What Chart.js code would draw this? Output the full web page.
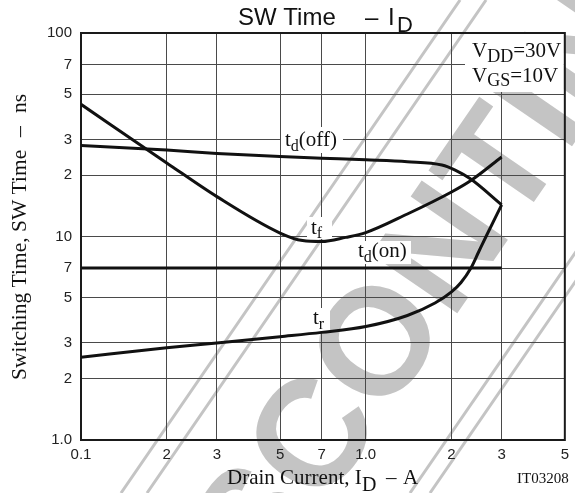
<!DOCTYPE html>
<html>
<head>
<meta charset="utf-8">
<script src="https://cdn.jsdelivr.net/npm/chart.js@4.4.1/dist/chart.umd.min.js"></script>
<style>
  html, body { margin: 0; padding: 0; background: #fff; }
  #wrap { width: 575px; height: 493px; position: relative; }
</style>
</head>
<body>
<div id="wrap"><canvas id="chartSwTime"></canvas></div>
<script>
// Drain current (A) vs switching time (ns), one pair of arrays per curve
const idTdOn = [0.1, 3];
const tdOn = [7, 7];

const idTdOff = [0.1, 0.2, 0.3, 0.5, 0.7, 1.0, 1.4, 1.85, 2.06, 2.33, 3.0];
const tdOff = [28.0, 26.6, 25.6, 24.7, 24.25, 23.8, 23.3, 22.45, 21.2, 19.2, 14.3];

const idTf = [0.1, 0.2, 0.3, 0.5, 0.6, 0.7, 0.85, 1.0, 1.4, 2.0, 2.34, 3.0];
const tf = [44.6, 23.0, 15.7, 10.4, 9.55, 9.45, 9.9, 10.45, 12.9, 16.55, 18.85, 24.6];

const idTr = [0.1, 0.2, 0.3, 0.5, 0.7, 1.0, 1.4, 1.75, 2.0, 2.16, 2.34, 2.49, 2.66, 3.0];
const tr = [2.55, 2.84, 3.0, 3.22, 3.38, 3.61, 4.09, 4.71, 5.34, 5.94, 7.0, 8.39, 10.17, 14.3];

// Axis ticks (log decades, labels repeat per decade)
const xTicks = [0.1, 0.2, 0.3, 0.5, 0.7, 1, 2, 3, 5];
const xTickLabels = ['0.1', '2', '3', '5', '7', '1.0', '2', '3', '5'];
const yTicks = [1, 2, 3, 5, 7, 10, 20, 30, 50, 70, 100];
const yTickLabels = ['1.0', '2', '3', '5', '7', '10', '2', '3', '5', '7', '100'];

const SERIF = '"Liberation Serif", "Times New Roman", serif';
const SANS = '"Liberation Sans", Arial, sans-serif';

function toPoints(xs, ys) {
  return xs.map((x, i) => ({ x: x, y: ys[i] }));
}

function curve(label, xs, ys) {
  return {
    label: label,
    data: toPoints(xs, ys),
    borderColor: '#111',
    borderWidth: 3,
    pointRadius: 0,
    fill: false,
    cubicInterpolationMode: 'monotone'
  };
}

// Draws text pieces one after another, [text, size, dy] each
function drawRich(ctx, x, y, parts, family) {
  let cx = x;
  parts.forEach(([txt, size, dy]) => {
    ctx.font = size + 'px ' + family;
    ctx.fillText(txt, cx, y + dy);
    cx += ctx.measureText(txt).width;
  });
}

// Grey "DISCONTINUED" stamp behind the grid
const stampPlugin = {
  id: 'stamp',
  beforeDraw(chart) {
    const ctx = chart.ctx;
    const slope = 1.454;
    ctx.save();
    ctx.strokeStyle = '#c4c4c4';
    ctx.lineWidth = 3;
    [121, 147, 410, 430].forEach((x0) => {
      ctx.beginPath();
      ctx.moveTo(x0, 493);
      ctx.lineTo(x0 + 493 / slope, 0);
      ctx.stroke();
    });
    ctx.translate(472, 218);
    ctx.rotate(-Math.atan(slope));
    ctx.fillStyle = '#c4c4c4';
    ctx.font = 'bold 152px ' + SANS;
    ctx.textAlign = 'center';
    ctx.textBaseline = 'middle';
    ctx.fillText('DISCONTINUED', 0, 0);
    ctx.restore();
  }
};

// White boxes under the curve labels, plus the heavy frame
const boxesPlugin = {
  id: 'boxes',
  beforeDatasetsDraw(chart) {
    const ctx = chart.ctx;
    const a = chart.chartArea;
    ctx.save();
    ctx.fillStyle = '#fff';
    ctx.fillRect(281, 127, 62, 26);   // td(off)
    ctx.fillRect(307, 217, 25, 22);   // tf
    ctx.fillRect(354, 241, 57, 23);   // td(on)
    ctx.fillRect(309, 308, 21, 23);   // tr
    ctx.fillRect(465, a.top + 1, a.right - 466, 58); // conditions
    ctx.strokeStyle = '#1a1a1a';
    ctx.lineWidth = 2;
    ctx.strokeRect(a.left, a.top, a.right - a.left, a.bottom - a.top);
    ctx.restore();
  }
};

// Curve names, test conditions, title and axis titles
const textPlugin = {
  id: 'texts',
  afterDraw(chart) {
    const ctx = chart.ctx;
    ctx.save();
    ctx.fillStyle = '#111';
    ctx.textBaseline = 'alphabetic';
    ctx.textAlign = 'left';

    drawRich(ctx, 285, 146, [['t', 21, 0], ['d', 16, 5], ['(off)', 21, 0]], SERIF);
    drawRich(ctx, 311, 234, [['t', 21, 0], ['f', 16, 4]], SERIF);
    drawRich(ctx, 358, 257, [['t', 21, 0], ['d', 16, 5], ['(on)', 21, 0]], SERIF);
    drawRich(ctx, 313, 324, [['t', 21, 0], ['r', 16, 5]], SERIF);

    drawRich(ctx, 472, 57, [['V', 21, 0], ['DD', 18, 5], ['=30V', 21, 0]], SERIF);
    drawRich(ctx, 472, 82, [['V', 21, 0], ['GS', 18, 4], ['=10V', 21, 0]], SERIF);

    // chart title
    ctx.font = '24px ' + SANS;
    ctx.fillText('SW Time', 238, 25);
    ctx.fillText('–', 365, 25);
    ctx.fillText('I', 388, 25);
    ctx.font = '22px ' + SANS;
    ctx.fillText('D', 397, 32);

    // x axis title
    drawRich(ctx, 227, 484, [['Drain Current, I', 21, 0]], SERIF);
    ctx.font = '20px ' + SERIF;
    ctx.fillText('D', 362, 491);
    ctx.font = '21px ' + SERIF;
    ctx.fillText('–', 386, 484);
    ctx.fillText('A', 403, 484);

    ctx.font = '15px ' + SERIF;
    ctx.fillText('IT03208', 517, 483);

    // y axis title, reads bottom to top
    ctx.translate(26, 380);
    ctx.rotate(-Math.PI / 2);
    ctx.font = '21.5px ' + SERIF;
    ctx.fillText('Switching Time, SW Time', 0, 0);
    ctx.fillText('–', 243, 0);
    ctx.fillText('ns', 267, 0);
    ctx.restore();
  }
};

const gridStyle = { color: '#4a4a4a', lineWidth: 1, drawTicks: false };
const tickFont = { family: 'Liberation Sans', size: 15 };

new Chart(document.getElementById('chartSwTime'), {
  type: 'line',
  data: {
    datasets: [
      curve('td(on)', idTdOn, tdOn),
      curve('td(off)', idTdOff, tdOff),
      curve('tf', idTf, tf),
      curve('tr', idTr, tr)
    ]
  },
  options: {
    responsive: true,
    maintainAspectRatio: false,
    animation: false,
    layout: { padding: { top: 33, right: 6, left: 0, bottom: 0 } },
    plugins: {
      legend: { display: false },
      tooltip: { enabled: false }
    },
    scales: {
      x: {
        type: 'logarithmic',
        min: 0.1,
        max: 5,
        afterBuildTicks: (scale) => { scale.ticks = xTicks.map((v) => ({ value: v })); },
        afterFit: (scale) => { scale.height = 53; },
        ticks: {
          autoSkip: false,
          maxRotation: 0,
          padding: 6,
          color: '#222',
          font: tickFont,
          callback: (v, i) => xTickLabels[i]
        },
        grid: gridStyle,
        border: { display: true, color: '#1a1a1a', width: 2 }
      },
      y: {
        type: 'logarithmic',
        min: 1,
        max: 100,
        afterBuildTicks: (scale) => { scale.ticks = yTicks.map((v) => ({ value: v })); },
        afterFit: (scale) => { scale.width = 81; },
        ticks: {
          autoSkip: false,
          padding: 9,
          color: '#222',
          font: tickFont,
          callback: (v, i) => yTickLabels[i]
        },
        grid: gridStyle,
        border: { display: true, color: '#1a1a1a', width: 2 }
      }
    }
  },
  plugins: [stampPlugin, boxesPlugin, textPlugin]
});
</script>
</body>
</html>
